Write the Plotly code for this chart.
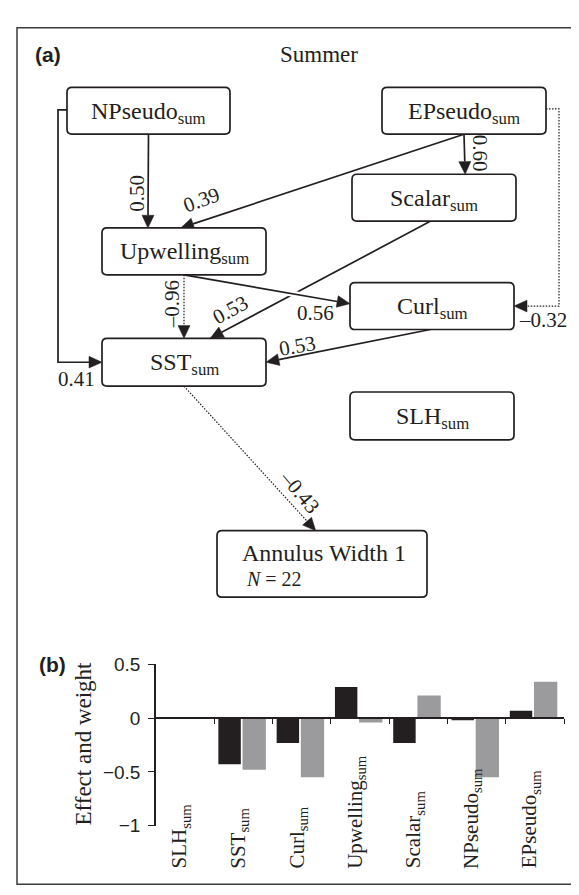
import math
import plotly.graph_objects as go

W, H = 579, 895

# ---------------- data ----------------
categories = ["SLH", "SST", "Curl", "Upwelling", "Scalar", "NPseudo", "EPseudo"]
effect = [0.0, -0.43, -0.23, 0.29, -0.23, -0.02, 0.07]
weight = [0.0, -0.48, -0.55, -0.04, 0.21, -0.55, 0.34]

edge_from = ["NPseudo", "EPseudo", "EPseudo", "Upwelling", "Scalar", "Upwelling", "Curl", "NPseudo", "EPseudo", "SST"]
edge_to = ["Upwelling", "Upwelling", "Scalar", "Curl", "SST", "SST", "SST", "SST", "Curl", "Annulus"]
edge_coef = [0.50, 0.39, 0.60, 0.56, 0.53, -0.96, 0.53, 0.41, -0.32, -0.43]

# ---------------- layout (pixel geometry) ----------------
boxes = {
    "NPseudo": (59, 71, 222, 119),
    "EPseudo": (374, 71, 538, 119),
    "Scalar": (344, 160, 508, 208),
    "Upwelling": (94, 215, 258, 263),
    "Curl": (342, 271, 506, 319),
    "SST": (94, 328, 258, 377),
    "SLH": (342, 383, 506, 432),
    "Annulus": (209, 525, 419, 593),
}
# anchor fractions (start fx, fy, end fx, fy, elbow x or None)
edge_geom = [
    (0.5, 1, 0.28, 0, None),
    (0.5, 1, 0.48, 0, None),
    (0.5, 1, 0.69, 0, None),
    (0.5, 1, 0.0, 0.45, None),
    (0.48, 1, 0.66, 0, None),
    (0.5, 1, 0.5, 0, None),
    (0.49, 1, 1.0, 0.5, None),
    (0.0, 0.48, 0.0, 0.5, 50),
    (1.0, 0.46, 1.0, 0.5, 551),
    (0.5, 1, 0.47, 0, None),
]
# label position (x, y, angle)
edge_label = [
    (129, 180, -90),
    (193, 186, -20),
    (472, 138, 90),
    (307, 302, 0),
    (222, 299, -28),
    (164, 293, -90),
    (289, 336, -10),
    (68, 370, 0),
    (535, 309, 0),
    (292, 485, 50),
]

INK = "#231f20"
SERIF = "Liberation Serif, Times New Roman, serif"
SANS = "Liberation Sans, Arial, sans-serif"

def anchor(node, fx, fy):
    x0, y0, x1, y1 = boxes[node]
    return (x0 + fx * (x1 - x0), y0 + fy * (y1 - y0))

def rounded(x0, y0, x1, y1, r=5):
    return (f"M{x0+r},{y0} L{x1-r},{y0} Q{x1},{y0} {x1},{y0+r} L{x1},{y1-r} "
            f"Q{x1},{y1} {x1-r},{y1} L{x0+r},{y1} Q{x0},{y1} {x0},{y1-r} "
            f"L{x0},{y0+r} Q{x0},{y0} {x0+r},{y0} Z")

shapes = []
annotations = []

# outer frame
shapes.append(dict(type="rect", xref="x", yref="y", x0=9, y0=10, x1=571, y1=887,
                   line=dict(color="#3a3a3a", width=1.5), layer="below"))

def add_edge(pts, dotted, halo=False):
    L, hw = 13, 6
    (xa, ya), (xb, yb) = pts[-2], pts[-1]
    d = math.hypot(xb - xa, yb - ya)
    ux, uy = (xb - xa) / d, (yb - ya) / d
    bx, by = xb - L * ux, yb - L * uy
    line_pts = pts[:-1] + [(bx, by)]
    path = "M" + " L".join(f"{x:.2f},{y:.2f}" for x, y in line_pts)
    if halo:
        shapes.append(dict(type="path", xref="x", yref="y", path=path,
                           line=dict(color="white", width=6)))
    if dotted:
        shapes.append(dict(type="path", xref="x", yref="y", path=path,
                           line=dict(color=INK, width=1.2, dash="1.5px,1.5px")))
    else:
        shapes.append(dict(type="path", xref="x", yref="y", path=path,
                           line=dict(color=INK, width=1.7)))
    px, py = -uy, ux
    tri = (f"M{xb:.2f},{yb:.2f} L{bx+hw*px:.2f},{by+hw*py:.2f} "
           f"L{bx-hw*px:.2f},{by-hw*py:.2f} Z")
    shapes.append(dict(type="path", xref="x", yref="y", path=tri,
                       fillcolor=INK, line=dict(color=INK, width=0.5)))

order = [0, 1, 2, 4, 3, 5, 6, 7, 8, 9]
for i in order:
    sfx, sfy, efx, efy, elbow = edge_geom[i]
    p0 = anchor(edge_from[i], sfx, sfy)
    p1 = anchor(edge_to[i], efx, efy)
    if elbow is not None:
        pts = [p0, (elbow, p0[1]), (elbow, p1[1]), p1]
    else:
        pts = [p0, p1]
    add_edge(pts, edge_coef[i] < 0, halo=(i == 3))

for i, c in enumerate(edge_coef):
    lx, ly, ang = edge_label[i]
    txt = f"{c:.2f}".replace("-", "\u2013")
    annotations.append(dict(x=lx, y=ly, xref="x", yref="y", text=txt, showarrow=False,
                            textangle=ang, xanchor="center", yanchor="middle",
                            font=dict(family=SERIF, size=21, color=INK)))

# boxes
for name, (x0, y0, x1, y1) in boxes.items():
    shapes.append(dict(type="path", xref="x", yref="y", path=rounded(x0, y0, x1, y1),
                       fillcolor="white", line=dict(color=INK, width=1.7)))
    if name == "Annulus":
        annotations.append(dict(x=(x0 + x1) / 2 + 2, y=548, xref="x", yref="y",
                                text="Annulus Width 1", showarrow=False,
                                font=dict(family=SERIF, size=24, color=INK)))
        annotations.append(dict(x=236, y=574, xref="x", yref="y", xanchor="left",
                                text="<i>N</i> = 22", showarrow=False,
                                font=dict(family=SERIF, size=20, color=INK)))
    else:
        annotations.append(dict(x=(x0 + x1) / 2, y=(y0 + y1) / 2 + 2, xref="x", yref="y",
                                text=f"{name}<sub>sum</sub>", showarrow=False,
                                font=dict(family=SERIF, size=24, color=INK)))

# panel labels / title
annotations.append(dict(x=40, y=37, xref="x", yref="y", text="<b>(a)</b>", showarrow=False,
                        font=dict(family=SANS, size=21, color=INK)))
annotations.append(dict(x=311, y=37, xref="x", yref="y", text="Summer", showarrow=False,
                        font=dict(family=SERIF, size=23, color=INK)))
annotations.append(dict(x=44, y=662, xref="x", yref="y", text="<b>(b)</b>", showarrow=False,
                        font=dict(family=SANS, size=21, color=INK)))
annotations.append(dict(x=76, y=743, xref="x", yref="y", text="Effect and weight",
                        showarrow=False, textangle=-90,
                        font=dict(family=SERIF, size=23, color=INK)))

# category labels (rotated, start-aligned at the bottom)
for i, c in enumerate(categories):
    annotations.append(dict(x=i - 0.08, y=873, xref="x2", yref="y", text=f"{c}<sub>sum</sub>",
                            showarrow=False, textangle=-90, xanchor="center", yanchor="bottom",
                            font=dict(family=SERIF, size=21, color=INK)))

fig = go.Figure()
fig.add_trace(go.Scatter(x=[0, W], y=[0, H], xaxis="x", yaxis="y", mode="markers",
                         marker=dict(opacity=0), hoverinfo="skip", showlegend=False))
xs = list(range(len(categories)))
fig.add_trace(go.Bar(x=xs, y=effect, xaxis="x2", yaxis="y2", name="Effect",
                     marker=dict(color="#231f20", line=dict(width=0)),
                     offset=-0.43, width=0.385, showlegend=False))
fig.add_trace(go.Bar(x=xs, y=weight, xaxis="x2", yaxis="y2", name="Weight",
                     marker=dict(color="#9b9b9d", line=dict(width=0)),
                     offset=-0.015, width=0.40, showlegend=False))

y_top, y_bot, y_zero = 662, 827, 717
fig.update_layout(
    width=W, height=H, margin=dict(l=0, r=0, t=0, b=0),
    paper_bgcolor="white", plot_bgcolor="rgba(0,0,0,0)",
    barmode="overlay",
    xaxis=dict(range=[0, W], domain=[0, 1], visible=False, fixedrange=True),
    yaxis=dict(range=[H, 0], domain=[0, 1], visible=False, fixedrange=True),
    xaxis2=dict(domain=[148 / W, 556 / W], range=[-0.5, 6.5], anchor="free",
                position=1 - y_zero / H, showline=True, linecolor=INK, linewidth=1.6,
                tickvals=[k + 0.5 for k in range(7)], ticks="outside", ticklen=5,
                tickcolor=INK, tickwidth=1.4, showticklabels=False, showgrid=False,
                zeroline=False),
    yaxis2=dict(domain=[1 - y_bot / H, 1 - y_top / H], range=[-1, 0.5], anchor="x2",
                showline=True, linecolor=INK, linewidth=1.6,
                tickvals=[-1, -0.5, 0, 0.5], ticktext=["\u22121", "\u22120.5", "0", "0.5"],
                ticks="outside", ticklen=6, tickcolor=INK, tickwidth=1.4,
                ticklabelstandoff=4,
                tickfont=dict(family=SANS, size=19, color=INK),
                showgrid=False, zeroline=False),
    shapes=shapes, annotations=annotations,
)

fig.write_html("out.html")
